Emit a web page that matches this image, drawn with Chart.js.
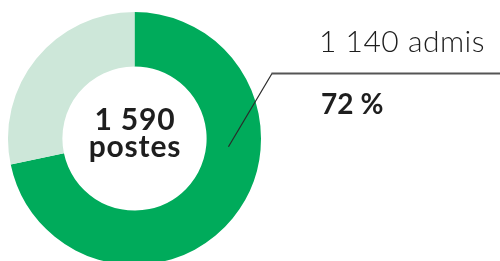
<!DOCTYPE html>
<html><head><meta charset="utf-8">
<script src="https://cdn.jsdelivr.net/npm/chart.js@4.4.0/dist/chart.umd.min.js"></script>
<style>
html,body{margin:0;padding:0;background:#fff;}
#wrap{position:relative;width:500px;height:261px;overflow:hidden;}
canvas{position:absolute;left:0;top:0;}
.t{position:absolute;color:#1e1e1e;font-family:Lato,"Open Sans",sans-serif;white-space:nowrap;line-height:1;}
#center{left:135px;top:105px;transform:translateX(-50%);text-align:center;font-weight:700;font-size:30px;line-height:27px;letter-spacing:0.8px;}
#lab1{left:319px;top:25px;font-weight:300;font-size:30px;letter-spacing:0.5px;}
#lab2{left:321px;top:89px;font-weight:700;font-size:28px;letter-spacing:0.5px;}
</style></head>
<body><div id="wrap">
<canvas id="c" width="500" height="270"></canvas>
<div class="t" id="center">1 590<br>postes</div>
<div class="t" id="lab1">1 140 admis</div>
<div class="t" id="lab2">72&#8239;%</div>
</div>
<script>
const categories = ["Admis", "Non pourvus"];
const values = [1140, 450];
const colors = ["#00ab5b", "#cde7d9"];

const leader = {
  id: 'leader',
  afterDraw(chart) {
    const arc = chart.getDatasetMeta(0).data[0];
    const cx = arc.x, cy = arc.y;
    const r = (arc.innerRadius + arc.outerRadius) / 2 - 5;
    const ang = 5 * Math.PI / 180;
    const x0 = cx + r * Math.cos(ang), y0 = cy + r * Math.sin(ang);
    const ctx = chart.ctx;
    ctx.save();
    ctx.strokeStyle = '#2a2a2a';
    ctx.lineWidth = 1.2;
    ctx.beginPath();
    ctx.moveTo(x0, y0);
    ctx.lineTo(272, 73.5);
    ctx.stroke();
    ctx.strokeStyle = '#555';
    ctx.lineWidth = 1.8;
    ctx.beginPath();
    ctx.moveTo(271.5, 73.5);
    ctx.lineTo(500, 73.5);
    ctx.stroke();
    ctx.restore();
  }
};

new Chart(document.getElementById('c'), {
  type: 'doughnut',
  data: { labels: categories, datasets: [{ data: values, backgroundColor: colors, borderWidth: 0 }] },
  options: {
    responsive: false,
    animation: false,
    cutout: '57%',
    layout: { padding: { left: 8, top: 12, right: 239, bottom: 5 } },
    plugins: { legend: { display: false }, tooltip: { enabled: false } }
  },
  plugins: [leader]
});
</script>
</body></html>
